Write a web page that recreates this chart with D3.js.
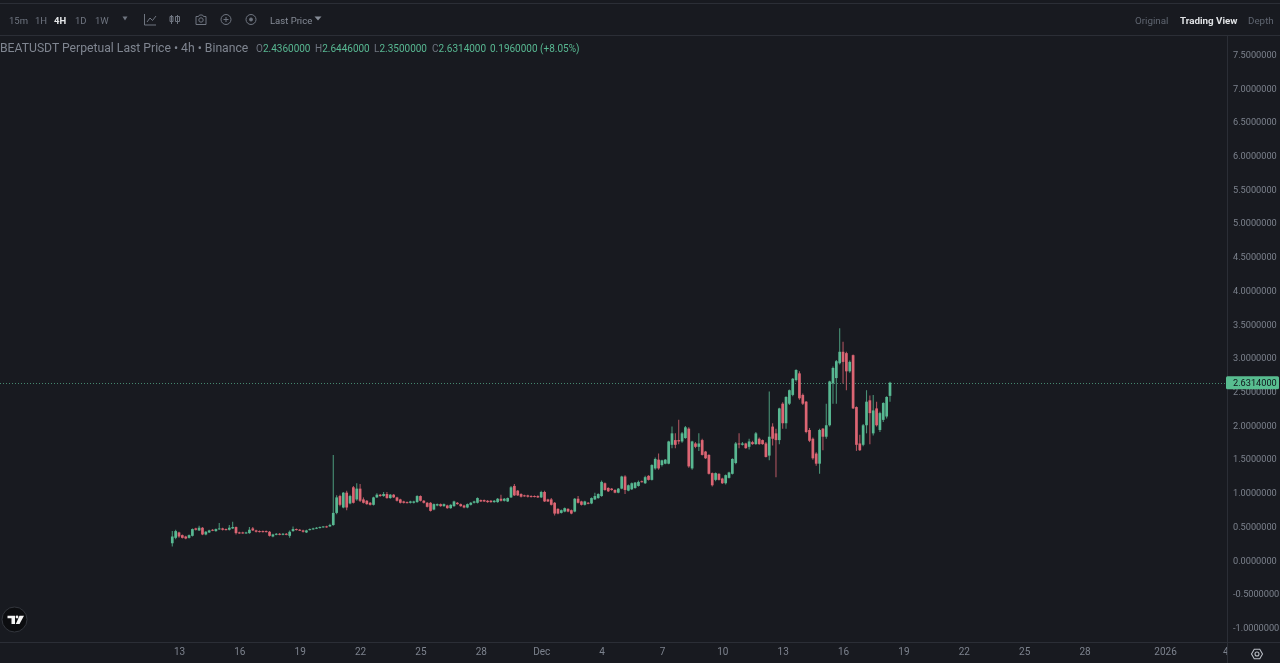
<!DOCTYPE html>
<html>
<head>
<meta charset="utf-8">
<script src="https://cdn.jsdelivr.net/npm/d3@7/dist/d3.min.js"></script>
<style>
html,body{margin:0;padding:0;background:#181a20;overflow:hidden}
svg{display:block;font-family:Roboto,"Open Sans",sans-serif;filter:blur(0.35px)}
svg text{font-family:Roboto,"Open Sans",sans-serif}
</style>
</head>
<body>
<svg id="chart" width="1280" height="663"></svg>
<script>
const opens = [
.25,.33,.41,.37,.35,.33,.36,.47,.44,.48,
.38,.41,.45,.43,.46,.47,.46,.45,.47,.49,
.41,.41,.40,.40,.47,.44,.43,.43,.43,.42,
.35,.38,.39,.38,.39,.36,.43,.46,.45,.44,
.41,.45,.46,.47,.48,.49,.50,.50,.52,.70,
.95,.78,1.00,.84,1.08,.90,1.06,.90,.88,.85,
.82,.93,.97,.95,.98,.92,.97,.93,.90,.87,
.86,.85,.85,.86,.95,.88,.85,.85,.75,.81,
.83,.80,.81,.77,.80,.85,.83,.81,.78,.82,
.85,.85,.89,.89,.88,.88,.86,.86,.91,.88,
.87,.93,1.10,1.03,.98,.96,.96,.95,.95,.95,
.93,1.01,.90,.90,.85,.76,.70,.72,.76,.74,
.72,.91,.87,.82,.85,.84,.90,.92,.95,1.14,
1.07,1.06,1.04,1.00,1.06,1.24,1.03,1.05,1.07,1.10,
1.17,1.14,1.25,1.19,1.36,1.49,1.41,1.43,1.43,1.71,
1.78,1.78,1.76,1.81,1.95,1.36,1.73,1.68,1.78,1.61,
1.56,1.29,1.19,1.28,1.21,1.14,1.22,1.28,1.44,1.73,
1.71,1.73,1.68,1.75,1.72,1.80,1.78,1.73,1.55,1.98,
1.88,1.78,2.32,2.03,2.32,2.45,2.67,2.77,2.45,2.35,
1.93,1.80,1.58,1.43,1.95,1.83,2.00,2.62,2.70,2.92,
3.09,3.07,2.80,3.04,2.27,1.73,1.71,2.00,2.37,1.88,
2.25,1.93,2.08,2.13,2.436];
const highs = [
.43,.45,.42,.38,.36,.38,.47,.48,.51,.49,
.43,.45,.46,.47,.55,.48,.47,.52,.57,.50,
.42,.42,.42,.49,.49,.45,.44,.44,.44,.43,
.39,.40,.40,.40,.40,.44,.50,.47,.46,.45,
.45,.47,.48,.49,.50,.50,.51,.54,1.56,.96,
.97,1.01,1.03,.97,1.10,1.14,1.13,.93,.89,.86,
.94,.99,.98,1.01,1.01,.98,.98,.94,.91,.88,
.87,.88,.88,.96,.96,.89,.86,.86,.84,.84,
.84,.84,.82,.83,.88,.86,.84,.82,.84,.86,
.88,.93,.90,.90,.89,.89,.89,.92,.97,.92,
.93,1.10,1.13,1.04,.99,.97,.97,.96,.96,.96,
1.03,1.03,.91,.92,.86,.77,.75,.78,.77,.75,
.92,.95,.88,.88,.86,.93,1.00,.99,1.18,1.15,
1.08,1.07,1.05,1.07,1.25,1.26,1.12,1.15,1.16,1.18,
1.18,1.25,1.26,1.42,1.52,1.58,1.49,1.50,1.77,1.98,
1.88,2.08,1.90,1.99,1.97,1.77,1.75,1.88,1.80,1.62,
1.57,1.30,1.30,1.29,1.22,1.27,1.31,1.51,1.75,1.88,
1.75,1.74,1.80,1.77,1.90,1.82,1.79,1.75,2.50,2.03,
1.95,2.26,2.34,2.43,2.53,2.70,2.83,2.80,2.47,2.36,
1.96,1.82,1.60,1.95,1.96,2.32,2.66,2.87,2.97,3.44,
3.24,3.09,2.96,3.05,2.28,1.86,2.02,2.52,2.44,2.45,
2.35,2.20,2.34,2.43,2.6446];
const lows = [
.20,.31,.33,.32,.31,.32,.35,.44,.43,.37,
.37,.40,.43,.42,.45,.44,.44,.44,.46,.38,
.39,.39,.39,.39,.43,.41,.41,.41,.41,.35,
.34,.37,.37,.37,.37,.33,.42,.44,.43,.41,
.40,.44,.45,.46,.47,.48,.48,.49,.51,.68,
.80,.77,.74,.83,.84,.88,.86,.84,.82,.81,
.81,.92,.94,.94,.91,.91,.92,.87,.84,.84,
.84,.84,.84,.85,.87,.84,.78,.72,.74,.80,
.79,.79,.76,.76,.79,.82,.79,.77,.77,.81,
.84,.84,.86,.86,.85,.85,.85,.85,.87,.87,
.86,.92,.95,.95,.93,.94,.93,.93,.93,.92,
.92,.86,.86,.81,.66,.68,.69,.71,.71,.68,
.71,.84,.81,.81,.83,.83,.89,.91,.94,1.03,
1.01,1.03,.99,.99,1.05,.98,1.02,1.04,1.06,1.09,
1.15,1.13,1.18,1.18,1.34,1.34,1.39,1.42,1.42,1.66,
1.66,1.72,1.74,1.80,1.37,1.34,1.66,1.62,1.55,1.50,
1.27,1.09,1.17,1.18,1.13,1.12,1.21,1.27,1.42,1.66,
1.70,1.65,1.64,1.71,1.71,1.71,1.71,1.52,1.48,1.70,
1.23,1.72,1.95,1.95,2.30,2.43,2.65,2.38,2.30,1.88,
1.75,1.49,1.40,1.28,1.63,1.80,1.98,2.32,2.32,2.90,
2.62,2.52,2.78,2.24,1.62,1.62,1.69,1.88,1.72,1.85,
1.98,1.90,2.05,2.10,2.35];
const closes = [
.35,.43,.35,.33,.32,.37,.46,.45,.48,.38,
.42,.44,.44,.46,.47,.45,.45,.48,.49,.40,
.40,.40,.41,.45,.44,.42,.42,.42,.42,.36,
.38,.39,.38,.39,.38,.42,.46,.45,.44,.42,
.44,.46,.47,.48,.49,.50,.49,.52,.70,.93,
.82,1.00,.78,.95,.85,1.06,.88,.85,.83,.82,
.93,.97,.95,.98,.92,.97,.93,.88,.85,.85,
.85,.87,.87,.95,.88,.85,.79,.73,.83,.83,
.80,.83,.77,.82,.87,.83,.80,.78,.83,.85,
.87,.92,.87,.87,.86,.86,.88,.91,.88,.91,
.92,1.08,.96,.96,.94,.95,.94,.94,.94,.93,
1.01,.87,.87,.82,.69,.69,.74,.77,.72,.69,
.91,.85,.82,.87,.84,.92,.95,.98,1.16,1.04,
1.02,1.04,1.00,1.06,1.24,1.04,1.11,1.14,1.15,1.16,
1.16,1.23,1.19,1.41,1.50,1.36,1.48,1.49,1.76,1.88,
1.71,1.76,1.88,1.97,1.39,1.76,1.68,1.73,1.56,1.51,
1.28,1.11,1.29,1.19,1.14,1.26,1.30,1.50,1.73,1.72,
1.73,1.66,1.76,1.72,1.88,1.72,1.72,1.53,1.83,1.80,
1.78,2.25,2.03,2.42,2.52,2.69,2.82,2.40,2.32,1.90,
1.77,1.51,1.43,1.93,1.83,2.00,2.65,2.85,2.95,3.09,
2.94,2.80,2.94,2.25,1.71,1.63,2.00,2.35,2.18,2.22,
2.00,2.18,2.33,2.42,2.6314];

const priceTicks = [7.5,7,6.5,6,5.5,5,4.5,4,3.5,3,2.5,2,1.5,1,0.5,0,-0.5,-1];
const timeTicks = [
  ["2025-11-13","13"],["2025-11-16","16"],["2025-11-19","19"],["2025-11-22","22"],
  ["2025-11-25","25"],["2025-11-28","28"],["2025-12-01","Dec"],["2025-12-04","4"],
  ["2025-12-07","7"],["2025-12-10","10"],["2025-12-13","13"],["2025-12-16","16"],
  ["2025-12-19","19"],["2025-12-22","22"],["2025-12-25","25"],["2025-12-28","28"],
  ["2026-01-01","2026"],["2026-01-04","4"]];
const intervals = ["15m","1H","4H","1D","1W"];
const ohlcLabels = ["O","H","L","C"];
const ohlcValues = ["2.4360000","2.6446000","2.3500000","2.6314000"];
const lastPrice = 2.6314;
const firstBar = Date.UTC(2025,10,12,16);
const fourHours = 4*3600*1000;

const BG="#181a20", LINE="#2b2e36", AXT="#7c828d", UP="#58b892", DOWN="#dc6573";
const svg=d3.select("#chart");
svg.append("rect").attr("width",1280).attr("height",663).attr("fill",BG);

const x=d3.scaleUtc().domain([new Date("2025-11-13"),new Date("2026-01-01")]).range([179,1165]);
const y=d3.scaleLinear().domain([-1,7.5]).range([627.5,54.5]);
const bodyW=2.7;

const candles=opens.map((o,i)=>({t:new Date(firstBar+i*fourHours),o,h:highs[i],l:lows[i],c:closes[i]}));

[3.5,35.5,642.5].forEach(v=>svg.append("line").attr("x1",0).attr("x2",1280).attr("y1",v).attr("y2",v).attr("stroke",LINE));
svg.append("line").attr("x1",1227.5).attr("x2",1227.5).attr("y1",36).attr("y2",663).attr("stroke",LINE);

svg.append("line").attr("x1",0).attr("x2",1227).attr("y1",Math.round(y(lastPrice))+.5).attr("y2",Math.round(y(lastPrice))+.5)
  .attr("stroke",UP).attr("stroke-dasharray","1 2").attr("stroke-opacity",.7);

const g=svg.append("g").style("filter","blur(0.45px)");
g.selectAll("line.w").data(candles).join("line").attr("class","w")
  .attr("x1",d=>x(d.t)).attr("x2",d=>x(d.t)).attr("y1",d=>y(d.h)).attr("y2",d=>y(d.l))
  .attr("stroke",d=>d.c>=d.o?UP:DOWN).attr("stroke-width",1.1).attr("stroke-opacity",.75);
g.selectAll("rect.b").data(candles).join("rect").attr("class","b")
  .attr("x",d=>x(d.t)-bodyW/2).attr("width",bodyW)
  .attr("y",d=>y(Math.max(d.o,d.c)))
  .attr("height",d=>Math.max(1,Math.abs(y(d.o)-y(d.c))))
  .attr("fill",d=>d.c>=d.o?UP:DOWN);

const yAxis=d3.axisRight(y).tickValues(priceTicks).tickSize(0).tickPadding(5).tickFormat(d=>d.toFixed(7));
const ya=svg.append("g").attr("transform","translate(1228,0)").call(yAxis);
ya.select(".domain").remove();
ya.selectAll("text").attr("fill",AXT).attr("font-size",9.2);

const xa=svg.append("g").attr("transform","translate(0,642)");
xa.call(d3.axisBottom(x).tickValues(timeTicks.map(d=>new Date(d[0]))).tickSize(0).tickPadding(6)
  .tickFormat((d,i)=>timeTicks[i][1]));
xa.select(".domain").remove();
xa.selectAll("text").attr("fill",AXT).attr("font-size",10);
svg.append("rect").attr("x",1228).attr("y",643).attr("width",52).attr("height",20).attr("fill",BG);
svg.append("line").attr("x1",1227.5).attr("x2",1227.5).attr("y1",643).attr("y2",663).attr("stroke",LINE);

const ly=y(lastPrice);
svg.append("rect").attr("x",1226).attr("y",ly-6.5).attr("width",53).attr("height",13).attr("rx",1.5).attr("fill","#58bd90");
svg.append("text").attr("x",1233).attr("y",ly+3.5).attr("font-size",9.2).attr("fill","#10131a").text(lastPrice.toFixed(7));

const intervalX=[9,35,54,75,95];
intervals.forEach((t,i)=>svg.append("text").attr("x",intervalX[i]).attr("y",23.5).attr("font-size",9.5)
  .attr("font-weight",t==="4H"?700:400).attr("fill",t==="4H"?"#e6e8ea":"#6f7580").text(t));
const tri=(cx,cy,w,col)=>svg.append("path").attr("d",`M${cx-w},${cy-2}L${cx+w},${cy-2}L${cx},${cy+2}Z`).attr("fill",col);
tri(125,18.5,2.5,"#6f7580");
const ic="#6f7580";
const icons=svg.append("g").attr("fill","none").attr("stroke",ic).attr("stroke-width",1);
icons.append("path").attr("d","M144.5,14V25H156M147,22L150,18L152.5,20.5L156,16");
icons.append("path").attr("d","M171.5,15V24M170,16.5h3v5h-3zM177.5,15V24M175.5,16.5h4v5h-4z");
icons.append("path").attr("d","M196,16.5h2.5l1,-1.5h3l1,1.5h2.5v8h-10z");
icons.append("circle").attr("cx",201).attr("cy",20).attr("r",2.2);
icons.append("circle").attr("cx",226).attr("cy",19.5).attr("r",5);
icons.append("path").attr("d","M226,17V22M223.5,19.5H228.5");
icons.append("circle").attr("cx",251).attr("cy",19.5).attr("r",5);
icons.append("circle").attr("cx",251).attr("cy",19.5).attr("r",1.5).attr("fill",ic);
svg.append("text").attr("x",270).attr("y",23.5).attr("font-size",9.5).attr("fill","#868c97").text("Last Price");
tri(318,18.5,3.5,"#868c97");

[["Original",1135,400,"#5f6570"],["Trading View",1180,700,"#dfe1e4"],["Depth",1248,400,"#5f6570"]].forEach(r=>
  svg.append("text").attr("x",r[1]).attr("y",23.5).attr("font-size",9.8).attr("font-weight",r[2]).attr("fill",r[3]).text(r[0]));

svg.append("text").attr("x",0).attr("y",52).attr("font-size",12.2).attr("fill","#7f8590")
  .text("BEATUSDT Perpetual Last Price • 4h • Binance");
const legendX=[256,315,374,432];
ohlcLabels.forEach((l,i)=>{
  const t=svg.append("text").attr("x",legendX[i]).attr("y",51.5).attr("font-size",10);
  t.append("tspan").attr("fill","#6f7580").text(l);
  t.append("tspan").attr("fill",UP).text(ohlcValues[i]);
});
svg.append("text").attr("x",490).attr("y",51.5).attr("font-size",10).attr("fill",UP).text("0.1960000 (+8.05%)");

// logo
svg.append("circle").attr("cx",14.5).attr("cy",619.5).attr("r",12.5).attr("fill","#0c0d10").attr("stroke","#33363d");
svg.append("path").attr("fill","#f4f4f4").attr("d","M7.5,615.7H15V624H11.5V618.3H7.5ZM19.5,615.7H24L19.5,624H15.8Z");
svg.append("circle").attr("cx",17).attr("cy",617).attr("r",1.4).attr("fill","#f4f4f4");

const set=svg.append("g").attr("fill","none").attr("stroke","#b9bdc4").attr("stroke-width",1.1);
set.append("path").attr("d",d3.line()(d3.range(6).map(k=>[1257+5.5*Math.cos(k*Math.PI/3),654+5.5*Math.sin(k*Math.PI/3)]))+"Z");
set.append("circle").attr("cx",1257).attr("cy",654).attr("r",2);
</script>
</body>
</html>
